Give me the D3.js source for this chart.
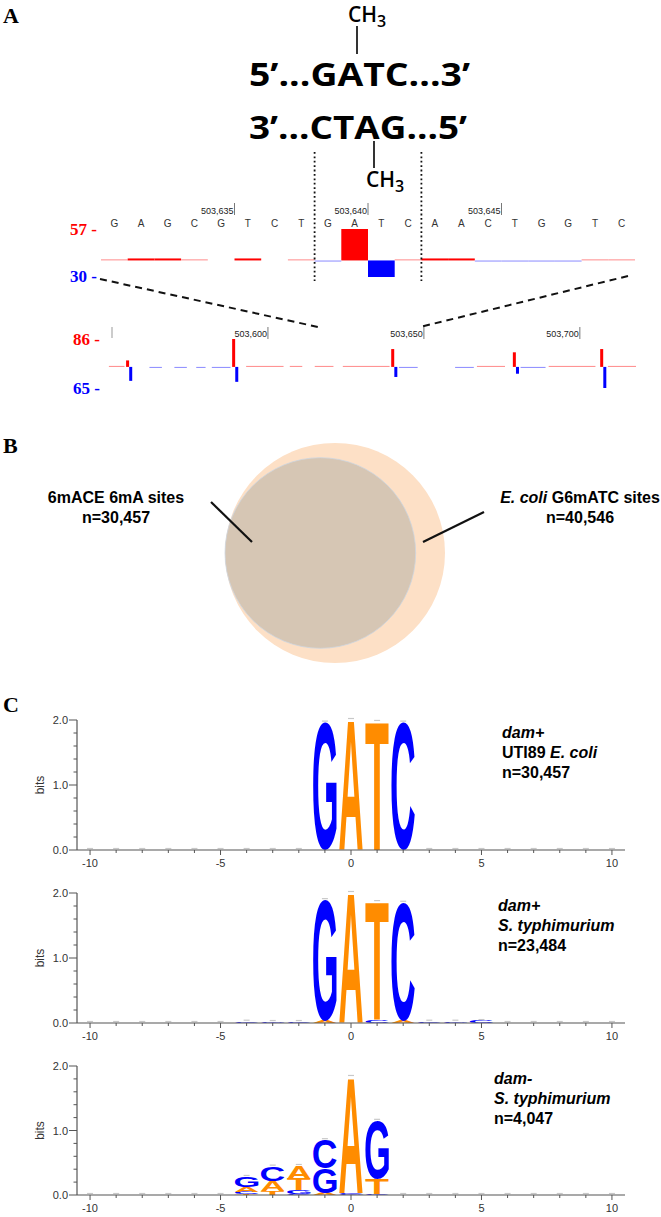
<!DOCTYPE html>
<html>
<head>
<meta charset="utf-8">
<title>GATC methylation figure</title>
<script src="https://cdn.jsdelivr.net/npm/d3@7"></script>
<style>
  body { margin: 0; background: #fff; }
  svg text { font-family: "Liberation Sans", Arial, sans-serif; }
</style>
</head>
<body>
<svg id="fig" width="661" height="1217"></svg>
<script>
// ---------- data ----------
// panel A, single-base view
var seqBases = "GAGCGTCTGATCAACTGGTC".split("");
var seqStart = 503631;
var seqFwd = [0.6, 1.6, 1.0, 0.6, 0, 1.6, 0, 0.6, 0, 57, 0, 0.6, 2.0, 1.2, 0, 0, 0, 0, 0.6, 0.8];
var seqRev = [0, 0, 0, 0, 0, 0, 0, 0, 0.6, 0, 30, 0, 0, 0, 0.6, 0.6, 0.6, 0.6, 0, 0];
var seqTicks = [503635, 503640, 503645];
var gatcSite = [503639, 503642];

// panel A, wide view
var wideStart = 503550, wideEnd = 503718;
var wideTicks = [503600, 503650, 503700];
var peakPos = [503555, 503589, 503640, 503679, 503707];
var peakFwd = [20, 86, 55, 45, 55];
var peakRev = [43, 46, 31, 21, 65];
var lowFwd = [[503549, 503554], [503593, 503605], [503607, 503611], [503615, 503621], [503624, 503639],
              [503667, 503676], [503690, 503705], [503709, 503718]];
var lowRev = [[503562, 503566], [503570, 503574], [503577, 503580], [503582, 503588], [503642, 503648],
              [503660, 503666], [503681, 503689]];

// panel B
var vennNames = ["6mACE 6mA sites", "E. coli G6mATC sites"];
var vennCounts = [30457, 40546];

// panel C, sequence logos (position, [letter, bits] bottom to top)
var logoPositions = d3.range(-10, 11);
var logoDamEcoli = [
  [-1, [["G", 1.96]]], [0, [["A", 2.0]]], [1, [["T", 1.97]]], [2, [["C", 1.96]]]
];
var logoDamSty = [
  [-4, [["C", 0.02]]], [-3, [["G", 0.015]]], [-2, [["C", 0.015]]],
  [-1, [["A", 0.03], ["G", 1.86]]], [0, [["A", 2.0]]], [1, [["C", 0.04], ["T", 1.82]]],
  [2, [["A", 0.03], ["C", 1.82]]], [3, [["C", 0.02]]], [4, [["G", 0.02]]], [5, [["C", 0.03]]]
];
var logoNoDamSty = [
  [-4, [["T", 0.02], ["C", 0.03], ["A", 0.07], ["G", 0.16]]],
  [-3, [["T", 0.06], ["A", 0.16], ["C", 0.22]]],
  [-2, [["C", 0.01], ["G", 0.06], ["T", 0.18], ["A", 0.2]]],
  [-1, [["A", 0.03], ["G", 0.38], ["C", 0.44]]],
  [0, [["G", 0.01], ["C", 0.02], ["A", 1.8]]],
  [1, [["C", 0.02], ["T", 0.23], ["G", 0.9]]]
];
var logoLabels = [
  [[["dam+", 1]], [["UTI89 ", 0], ["E. coli", 1]], [["n=30,457", 0]]],
  [[["dam+", 1]], [["S. typhimurium", 1]], [["n=23,484", 0]]],
  [[["dam-", 1]], [["S. typhimurium", 1]], [["n=4,047", 0]]]
];
var letterColor = { A: "#ff8c00", T: "#ff8c00", G: "#0000ff", C: "#0000ff" };

// ---------- drawing ----------
var svg = d3.select("#fig");
svg.append("rect").attr("width", 661).attr("height", 1217).attr("fill", "#fff");

var serif = "'Liberation Serif', 'Times New Roman', serif";
[["A", 3, 23], ["B", 3, 453], ["C", 3, 712]].forEach(function (p) {
  svg.append("text").attr("x", p[1]).attr("y", p[2]).text(p[0])
    .style("font-family", serif).attr("font-weight", "bold").attr("font-size", 22);
});

// header with methyl groups
var sans2 = "'Open Sans', 'Noto Sans', sans-serif";
var hdr = svg.append("g");
hdr.append("text").attr("x", 249).attr("y", 86).text("5’...GATC...3’")
  .style("font-family", sans2).attr("font-weight", 700).attr("font-size", 32)
  .attr("textLength", 221).attr("lengthAdjust", "spacingAndGlyphs");
hdr.append("text").attr("x", 249).attr("y", 139).text("3’...CTAG...5’")
  .style("font-family", sans2).attr("font-weight", 700).attr("font-size", 32)
  .attr("textLength", 218).attr("lengthAdjust", "spacingAndGlyphs");
function methyl(x, y) {
  var t = hdr.append("text").attr("x", x).attr("y", y)
    .style("font-family", sans2).attr("font-weight", 600).attr("font-size", 21);
  t.append("tspan").text("CH");
  t.append("tspan").attr("dy", 5).attr("font-size", 16).text("3");
}
methyl(348, 22);
hdr.append("line").attr("x1", 357).attr("x2", 357).attr("y1", 26).attr("y2", 54).attr("stroke", "#000").attr("stroke-width", 1.6);
methyl(366, 187);
hdr.append("line").attr("x1", 374).attr("x2", 374).attr("y1", 141).attr("y2", 168).attr("stroke", "#000").attr("stroke-width", 1.6);

// single-base track
var x1 = d3.scaleLinear().domain([seqStart - 0.5, seqStart + seqBases.length - 0.5]).range([101, 635]);
var y1 = d3.scaleLinear().domain([-d3.max(seqRev), d3.max(seqFwd)]).range([277, 229]);
var bw1 = x1(1) - x1(0);
var t1 = svg.append("g");

seqTicks.forEach(function (p) {
  var tx = x1(p + 0.5);
  t1.append("text").attr("x", tx - 1).attr("y", 213.5).attr("text-anchor", "end")
    .attr("font-size", 9).attr("fill", "#222").text(d3.format(",")(p));
  t1.append("line").attr("x1", tx).attr("x2", tx).attr("y1", 203).attr("y2", 215).attr("stroke", "#555").attr("stroke-width", 0.8);
});
t1.selectAll(".base").data(seqBases).enter().append("text")
  .attr("x", function (d, i) { return x1(seqStart + i); }).attr("y", 226.5)
  .attr("text-anchor", "middle").attr("font-size", 10).attr("fill", "#333").text(function (d) { return d; });

seqFwd.forEach(function (v, i) {
  if (!v) return;
  var h = Math.max(v >= 1 ? 2 : 1.2, y1(0) - y1(v));
  t1.append("rect").attr("x", x1(seqStart + i - 0.5)).attr("width", bw1)
    .attr("y", y1(0) - h).attr("height", h).attr("fill", v >= 1 ? "#ff0000" : "#ff9e9e");
});
seqRev.forEach(function (v, i) {
  if (!v) return;
  var h = Math.max(v >= 1 ? 2 : 1.2, y1(-v) - y1(0));
  t1.append("rect").attr("x", x1(seqStart + i - 0.5)).attr("width", bw1)
    .attr("y", y1(0)).attr("height", h).attr("fill", v >= 1 ? "#0000ff" : "#9e9eff");
});
t1.append("text").attr("x", 97).attr("y", 234.5).attr("text-anchor", "end")
  .style("font-family", serif).attr("font-weight", "bold").attr("font-size", 17).attr("fill", "#ff0000")
  .text(d3.max(seqFwd) + " -");
t1.append("text").attr("x", 97).attr("y", 281.5).attr("text-anchor", "end")
  .style("font-family", serif).attr("font-weight", "bold").attr("font-size", 17).attr("fill", "#0000ff")
  .text(d3.max(seqRev) + " -");
gatcSite.forEach(function (p, k) {
  var gx = x1(k === 0 ? p - 0.5 : p + 0.5);
  t1.append("line").attr("x1", gx).attr("x2", gx).attr("y1", 152).attr("y2", 281)
    .attr("stroke", "#111").attr("stroke-width", 1.8).attr("stroke-dasharray", "1.8,2.6");
});

// zoom connectors
[[100, 279, 318, 327], [628, 276, 420, 327]].forEach(function (c) {
  svg.append("line").attr("x1", c[0]).attr("y1", c[1]).attr("x2", c[2]).attr("y2", c[3])
    .attr("stroke", "#111").attr("stroke-width", 2).attr("stroke-dasharray", "7,5");
});

// wide track
var x2 = d3.scaleLinear().domain([wideStart, wideEnd]).range([112, 636]);
var y2 = d3.scaleLinear().domain([-d3.max(peakRev), d3.max(peakFwd)]).range([388, 339]);
var t2 = svg.append("g");
t2.append("line").attr("x1", x2(wideStart)).attr("x2", x2(wideStart)).attr("y1", 327).attr("y2", 338)
  .attr("stroke", "#999").attr("stroke-width", 1);
wideTicks.forEach(function (p) {
  var tx = x2(p);
  t2.append("text").attr("x", tx - 1).attr("y", 337).attr("text-anchor", "end")
    .attr("font-size", 9).attr("fill", "#222").text(d3.format(",")(p));
  t2.append("line").attr("x1", tx).attr("x2", tx).attr("y1", 327).attr("y2", 339).attr("stroke", "#555").attr("stroke-width", 0.8);
});
lowFwd.forEach(function (s) {
  t2.append("rect").attr("x", x2(s[0])).attr("width", x2(s[1]) - x2(s[0]))
    .attr("y", y2(0) - 1).attr("height", 1).attr("fill", "#ff8a8a");
});
lowRev.forEach(function (s) {
  t2.append("rect").attr("x", x2(s[0])).attr("width", x2(s[1]) - x2(s[0]))
    .attr("y", y2(0)).attr("height", 1).attr("fill", "#8a8aff");
});
peakPos.forEach(function (p, i) {
  t2.append("rect").attr("x", x2(p) - 1.5).attr("width", 3)
    .attr("y", y2(peakFwd[i])).attr("height", y2(0) - y2(peakFwd[i])).attr("fill", "#ff0000");
  t2.append("rect").attr("x", x2(p + 1) - 1.5).attr("width", 3)
    .attr("y", y2(0)).attr("height", y2(-peakRev[i]) - y2(0)).attr("fill", "#0000ff");
});
t2.append("text").attr("x", 100).attr("y", 345).attr("text-anchor", "end")
  .style("font-family", serif).attr("font-weight", "bold").attr("font-size", 17).attr("fill", "#ff0000")
  .text(d3.max(peakFwd) + " -");
t2.append("text").attr("x", 100).attr("y", 394).attr("text-anchor", "end")
  .style("font-family", serif).attr("font-weight", "bold").attr("font-size", 17).attr("fill", "#0000ff")
  .text(d3.max(peakRev) + " -");

// ---------- panel B ----------
var rScale = d3.scaleSqrt().domain([0, d3.max(vennCounts)]).range([0, 110]);
var vCx = 335, vCy = 553;
var rBig = rScale(vennCounts[1]), rSmall = rScale(vennCounts[0]);
svg.append("circle").attr("cx", vCx).attr("cy", vCy).attr("r", rBig).attr("fill", "#fde0c6");
svg.append("circle").attr("cx", vCx - (rBig - rSmall)).attr("cy", vCy).attr("r", rSmall)
  .attr("fill", "#d6c6b4").attr("stroke", "#cdd5df").attr("stroke-width", 0.8);

function vennLabel(cx, y, parts, n) {
  var t = svg.append("text").attr("x", cx).attr("y", y).attr("text-anchor", "middle")
    .attr("font-weight", "bold").attr("font-size", 16);
  parts.forEach(function (p) {
    t.append("tspan").attr("font-style", p[1] ? "italic" : "normal").text(p[0]);
  });
  svg.append("text").attr("x", cx).attr("y", y + 20).attr("text-anchor", "middle")
    .attr("font-weight", "bold").attr("font-size", 16).text("n=" + d3.format(",")(n));
}
vennLabel(116, 503, [[vennNames[0], 0]], vennCounts[0]);
vennLabel(580, 503, [["E. coli", 1], [vennNames[1].replace("E. coli", ""), 0]], vennCounts[1]);
[[211, 502, 252, 542], [484, 512, 423, 542]].forEach(function (c) {
  svg.append("line").attr("x1", c[0]).attr("y1", c[1]).attr("x2", c[2]).attr("y2", c[3])
    .attr("stroke", "#111").attr("stroke-width", 2.2);
});

// ---------- panel C ----------
var ctx = document.createElement("canvas").getContext("2d");
ctx.font = "bold 100px 'Liberation Sans'";
var glyph = {};
"ACGT".split("").forEach(function (ch) {
  var m = ctx.measureText(ch);
  glyph[ch] = { x0: -m.actualBoundingBoxLeft, x1: m.actualBoundingBoxRight,
                y0: -m.actualBoundingBoxAscent, y1: m.actualBoundingBoxDescent };
});

var logoX = d3.scaleLinear().domain([-10.5, 10.5]).range([77, 625]);
var slot = logoX(1) - logoX(0);

function drawLogo(cols, labels, top, bottom, labelX) {
  var g = svg.append("g");
  var y = d3.scaleLinear().domain([0, 2]).range([bottom, top]);
  var totals = {};
  cols.forEach(function (c) {
    var acc = 0;
    c[1].forEach(function (lt) {
      var ch = lt[0], b = glyph[ch];
      var yb = y(acc), yt = y(acc + lt[1]);
      var w = slot * 0.9, h = yb - yt;
      var x0 = logoX(c[0]) - w / 2;
      if (h > 0.3) {
        g.append("text").attr("font-family", "'Liberation Sans', Arial, sans-serif")
          .attr("font-weight", "bold").attr("font-size", 100).attr("fill", letterColor[ch]).text(ch)
          .attr("transform", "translate(" + x0 + "," + yt + ") scale(" + (w / (b.x1 - b.x0)) + "," +
            (h / (b.y1 - b.y0)) + ") translate(" + (-b.x0) + "," + (-b.y0) + ")");
      }
      acc += lt[1];
    });
    totals[c[0]] = acc;
  });
  // small error bars
  logoPositions.forEach(function (p) {
    var yy = y(totals[p] || 0) - 1.5;
    g.append("line").attr("x1", logoX(p) - 3).attr("x2", logoX(p) + 3).attr("y1", yy).attr("y2", yy)
      .attr("stroke", "#c8c8c8").attr("stroke-width", 1.2);
  });
  // axes
  var axisCol = "#555";
  g.append("line").attr("x1", logoX.range()[0]).attr("x2", logoX.range()[0]).attr("y1", top).attr("y2", bottom)
    .attr("stroke", axisCol).attr("stroke-width", 1.2);
  g.append("line").attr("x1", logoX.range()[0]).attr("x2", logoX.range()[1]).attr("y1", bottom).attr("y2", bottom)
    .attr("stroke", axisCol).attr("stroke-width", 1.2);
  d3.range(0, 2.01, 0.2).forEach(function (v) {
    var major = Math.abs(v - Math.round(v)) < 1e-6;
    g.append("line").attr("x1", logoX.range()[0] - (major ? 8 : 3.5)).attr("x2", logoX.range()[0])
      .attr("y1", y(v)).attr("y2", y(v)).attr("stroke", axisCol).attr("stroke-width", 1);
    if (major) {
      g.append("text").attr("x", logoX.range()[0] - 9).attr("y", y(v) + 4).attr("text-anchor", "end")
        .attr("font-size", 11).attr("fill", "#333").text(d3.format(".1f")(v));
    }
  });
  logoPositions.forEach(function (p) {
    var major = p % 5 === 0;
    g.append("line").attr("x1", logoX(p)).attr("x2", logoX(p)).attr("y1", bottom).attr("y2", bottom + (major ? 5 : 3))
      .attr("stroke", axisCol).attr("stroke-width", 1);
    if (major) {
      g.append("text").attr("x", logoX(p)).attr("y", bottom + 17).attr("text-anchor", "middle")
        .attr("font-size", 11).attr("fill", "#333").text(p);
    }
  });
  g.append("text").attr("transform", "translate(44," + ((top + bottom) / 2) + ") rotate(-90)")
    .attr("text-anchor", "middle").attr("font-size", 12).attr("fill", "#333").text("bits");
  labels.forEach(function (line, i) {
    var t = g.append("text").attr("x", labelX).attr("y", top + 18 + i * 20)
      .attr("font-weight", "bold").attr("font-size", 16);
    line.forEach(function (part) {
      t.append("tspan").attr("font-style", part[1] ? "italic" : "normal").text(part[0]);
    });
  });
}
drawLogo(logoDamEcoli, logoLabels[0], 720, 850, 502);
drawLogo(logoDamSty, logoLabels[1], 893, 1023, 498);
drawLogo(logoNoDamSty, logoLabels[2], 1066, 1195, 494);
</script>
</body>
</html>
